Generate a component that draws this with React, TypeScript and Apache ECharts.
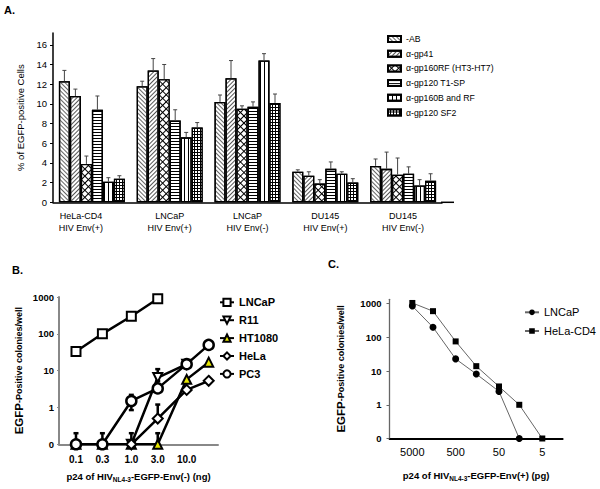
import React, { useEffect, useRef } from 'react';
import * as echarts from 'echarts';

// ---------- Panel A data ----------
const groupsA = ['HeLa-CD4\nHIV Env(+)', 'LNCaP\nHIV Env(+)', 'LNCaP\nHIV Env(-)', 'DU145\nHIV Env(+)', 'DU145\nHIV Env(-)'];
const antibodiesA = ['-AB', 'α-gp41', 'α-gp160RF (HT3-HT7)', 'α-gp120 T1-SP', 'α-gp160B and RF', 'α-gp120 SF2'];
const noAB = [12.3, 11.8, 10.2, 3.1, 3.7];
const gp41 = [10.8, 13.4, 12.6, 2.7, 3.4];
const gp160RF = [3.9, 12.5, 9.5, 1.9, 2.8];
const gp120T1SP = [9.4, 8.3, 9.7, 3.4, 2.9];
const gp160BRF = [2.1, 6.6, 14.4, 2.9, 1.7];
const gp120SF2 = [2.4, 7.6, 10.1, 2.0, 2.2];
const noABsd = [1.1, 0.5, 0.7, 0.2, 0.7];
const gp41sd = [0.7, 1.2, 1.8, 0.4, 1.7];
const gp160RFsd = [0.8, 1.5, 0.3, 0.4, 1.7];
const gp120T1SPsd = [1.4, 1.1, 0.5, 0.7, 0.7];
const gp160BRFsd = [0.4, 0.5, 0.7, 0.2, 0.6];
const gp120SF2sd = [0.3, 0.5, 0.9, 0.4, 0.7];
const yTicksA = [0, 2, 4, 6, 8, 10, 12, 14, 16];

// ---------- Panel B data ----------
const doseB = [0.1, 0.3, 1.0, 3.0, 10.0, 25];
const doseBTicks = [0.1, 0.3, 1.0, 3.0, 10.0];
const lncapB = [33, 100, 300, 900, null, null];
const r11B = [null, null, 0, 6.5, 15, null];
const ht1080B = [0, 0, 0, 0, 5.8, 17];
const helaB = [null, null, 0, 0.5, 3.0, 5.3];
const pc3B = [0, 0, 1.5, 3.3, 15, 50];
const pc3ErrB = [[0, 0.2], [0, 0.2], [0.85, 2.2], null, null, null];
const r11ErrB = [null, null, [0, 0.2], [5.2, 11], null, null];
const ht1080ErrB = [null, null, null, [0, 0.2], null, null];
const helaErrB = [null, null, null, [0.5, 1.2], null, null];
const yTicksLog = [0, 1, 10, 100, 1000];

// ---------- Panel C data ----------
const doseC = [5000, 1667, 500, 167, 50, 17, 5];
const doseCTicks = [5000, 500, 50, 5];
const lncapC = [850, 200, 23, 8.2, 2.5, 0, null];
const helaC = [1050, 600, 76, 14, 3.5, 1.0, 0];

const FONT = 'Liberation Sans, Arial, sans-serif';
const BAR_W = 11;
const lg = (v: number) => (v <= 0 ? -1 : Math.log10(v));

const valuesA = [noAB, gp41, gp160RF, gp120T1SP, gp160BRF, gp120SF2];
const sdA = [noABsd, gp41sd, gp160RFsd, gp120T1SPsd, gp160BRFsd, gp120SF2sd];

const decals: any[] = [
  { color: '#666', symbol: 'rect', symbolSize: 1, dashArrayX: [1, 0], dashArrayY: [1, 1.2], rotation: Math.PI / 4 },
  { color: '#555', symbol: 'rect', symbolSize: 1, dashArrayX: [1, 0], dashArrayY: [1, 1.8], rotation: -Math.PI / 4 },
  { color: '#fff', symbol: 'rect', symbolSize: 1, dashArrayX: [3.5, 1], dashArrayY: [3.5, 1], rotation: Math.PI / 4 },
  { color: '#000', symbol: 'rect', symbolSize: 1, dashArrayX: [1, 0], dashArrayY: [1, 2] },
  { color: '#000', symbol: 'rect', symbolSize: 1, dashArrayX: [1, 2.5], dashArrayY: [1, 0] },
  { color: '#fff', symbol: 'rect', symbolSize: 1, dashArrayX: [2, 1], dashArrayY: [2, 1] },
];
const barFill = ['#fff', '#fff', '#000', '#fff', '#fff', '#000'];

function pairs(xs: number[], ys: (number | null)[]) {
  const out: number[][] = [];
  xs.forEach((x, i) => {
    const y = ys[i];
    if (y !== null && y !== undefined) out.push([lg(x), lg(y)]);
  });
  return out;
}

function errPoints(xs: number[], ys: (number | null)[], errs: (number[] | null)[]) {
  const out: number[][] = [];
  xs.forEach((x, i) => {
    const e = errs[i];
    const y = ys[i];
    if (!e || y === null) return;
    const lo = Math.min(e[0], y);
    out.push([lg(x), lg(y), lg(lo), lg(e[1]), lo < y ? 1 : 0]);
  });
  return out;
}

export default function App() {
  const ref = useRef<HTMLDivElement>(null);
  useEffect(() => {
    if (!ref.current) return;
    const chart = echarts.init(ref.current, null, { renderer: 'svg' });

    const barSeries = antibodiesA.map((name, s) => ({
      name,
      type: 'bar',
      xAxisIndex: 0,
      yAxisIndex: 0,
      barWidth: BAR_W,
      barGap: '0%',
      data: valuesA[s],
      itemStyle: { color: barFill[s], borderColor: '#000', borderWidth: 1.3, decal: decals[s] },
      z: 2,
    }));

    const errA: number[][] = [];
    antibodiesA.forEach((_, s) => {
      valuesA[s].forEach((v, c) => errA.push([c, s, v, v + sdA[s][c]]));
    });

    const errSeriesA = {
      type: 'custom',
      xAxisIndex: 0,
      yAxisIndex: 0,
      z: 3,
      silent: true,
      data: errA,
      encode: { x: 0, y: [2, 3] },
      renderItem: (params: any, api: any) => {
        const c = api.value(0), s = api.value(1), v = api.value(2), t = api.value(3);
        const p0 = api.coord([c, v]);
        const p1 = api.coord([c, t]);
        const x = p0[0] + (s - 2.5) * BAR_W;
        return {
          type: 'group',
          children: [
            { type: 'line', shape: { x1: x, y1: p0[1], x2: x, y2: p1[1] }, style: { stroke: '#444', lineWidth: 1 } },
            { type: 'line', shape: { x1: x - 2, y1: p1[1], x2: x + 2, y2: p1[1] }, style: { stroke: '#444', lineWidth: 1 } },
          ],
        };
      },
    };

    const errRender = (w: number, cap: number) => (params: any, api: any) => {
      const x = api.value(0), lo = api.value(2), hi = api.value(3), hasLo = api.value(4);
      const pLo = api.coord([x, lo]);
      const pHi = api.coord([x, hi]);
      const children: any[] = [
        { type: 'line', shape: { x1: pLo[0], y1: pLo[1], x2: pHi[0], y2: pHi[1] }, style: { stroke: '#000', lineWidth: w } },
        { type: 'line', shape: { x1: pHi[0] - cap, y1: pHi[1], x2: pHi[0] + cap, y2: pHi[1] }, style: { stroke: '#000', lineWidth: w } },
      ];
      if (hasLo) {
        children.push({ type: 'line', shape: { x1: pLo[0] - cap, y1: pLo[1], x2: pLo[0] + cap, y2: pLo[1] }, style: { stroke: '#000', lineWidth: w } });
      }
      return { type: 'group', children };
    };

    const errB = [
      ...errPoints(doseB, pc3B, pc3ErrB),
      ...errPoints(doseB, r11B, r11ErrB),
      ...errPoints(doseB, ht1080B, ht1080ErrB),
      ...errPoints(doseB, helaB, helaErrB),
    ];

    const lineB = (name: string, ys: (number | null)[], symbol: string, size: number, fill: string, rotate = 0, bw = 2) => ({
      name,
      type: 'line',
      xAxisIndex: 1,
      yAxisIndex: 1,
      data: pairs(doseB, ys),
      symbol,
      symbolSize: size,
      symbolRotate: rotate,
      showAllSymbol: true,
      lineStyle: { color: '#000', width: 2.5 },
      itemStyle: { color: fill, borderColor: '#000', borderWidth: bw },
      z: 4,
    });

    const lineC = (name: string, ys: (number | null)[], symbol: string, size: number) => ({
      name,
      type: 'line',
      xAxisIndex: 2,
      yAxisIndex: 2,
      data: pairs(doseC, ys),
      symbol,
      symbolSize: size,
      showAllSymbol: true,
      lineStyle: { color: '#666', width: 1 },
      itemStyle: { color: '#000', borderColor: '#000', borderWidth: 0 },
      z: 4,
    });

    const logLabel = (v: number) => (v <= -1 ? '0' : String(Math.round(Math.pow(10, v))));

    const option: any = {
      animation: false,
      backgroundColor: '#fff',
      textStyle: { fontFamily: FONT, color: '#000' },
      graphic: [
        { type: 'text', left: 4, top: 4, style: { text: 'A.', font: `bold 11px ${FONT}`, fill: '#000' } },
        { type: 'text', left: 12, top: 264, style: { text: 'B.', font: `bold 11px ${FONT}`, fill: '#000' } },
        { type: 'text', left: 328, top: 258, style: { text: 'C.', font: `bold 11px ${FONT}`, fill: '#000' } },
        { type: 'line', shape: { x1: 441, y1: 202.3, x2: 454, y2: 202.3 }, style: { stroke: '#000', lineWidth: 1.5 } },
      ],
      grid: [
        { left: 53, right: 158, top: 33, bottom: 489 - 202.3 },
        { left: 59, right: 600 - 218, top: 297, bottom: 489 - 444.3 },
        { left: 389.5, right: 600 - 562.7, top: 299.3, bottom: 489 - 438.5 },
      ],
      legend: [
        {
          data: antibodiesA,
          left: 387,
          top: 33.5,
          padding: 0,
          orient: 'vertical',
          icon: 'rect',
          itemWidth: 13,
          itemHeight: 6,
          itemGap: 3.7,
          selectedMode: false,
          textStyle: { fontSize: 8.7, lineHeight: 11, fontFamily: FONT, color: '#000' },
        },
        {
          data: ['LNCaP', 'R11', 'HT1080', 'HeLa', 'PC3'],
          left: 219,
          top: 295.3,
          padding: 0,
          orient: 'vertical',
          itemWidth: 14,
          itemHeight: 9,
          itemGap: 3.9,
          selectedMode: false,
          textStyle: { fontSize: 11, fontWeight: 'bold', lineHeight: 14, fontFamily: FONT, color: '#000' },
        },
        {
          data: ['C:LNCaP', 'C:HeLa-CD4'],
          left: 524,
          top: 305.3,
          padding: 0,
          orient: 'vertical',
          itemWidth: 14,
          itemHeight: 7,
          itemGap: 4.7,
          selectedMode: false,
          formatter: (n: string) => n.slice(2),
          textStyle: { fontSize: 11, lineHeight: 14, fontFamily: FONT, color: '#000' },
        },
      ],
      xAxis: [
        {
          type: 'category',
          gridIndex: 0,
          data: groupsA.map((g, i) => (i === 0 ? { value: g, textStyle: { padding: [0, 22, 0, 0] } } : g)),
          axisLine: { lineStyle: { color: '#000', width: 1.5 } },
          axisTick: { show: false },
          axisLabel: { fontSize: 9, lineHeight: 12.3, margin: 7.5, color: '#000', fontFamily: FONT, interval: 0 },
        },
        {
          type: 'value',
          gridIndex: 1,
          min: -1.307,
          max: 1.566,
          axisLine: { onZero: false, lineStyle: { color: '#888', width: 2 } },
          axisTick: { show: false },
          splitLine: { show: false },
          axisLabel: {
            customValues: doseBTicks.map(lg),
            formatter: (v: number) => Math.pow(10, v).toFixed(1),
            fontSize: 10,
            fontWeight: 'bold',
            margin: 10,
            color: '#000',
            fontFamily: FONT,
          },
          name: '{m|p24 of HIV}{s|NL4-3}{m|-EGFP-Env(-) (ng)}',
          nameLocation: 'middle',
          nameGap: 26,
          nameTextStyle: {
            rich: {
              m: { fontSize: 9.5, fontWeight: 'bold', lineHeight: 13, fontFamily: FONT, color: '#000' },
              s: { fontSize: 6.5, fontWeight: 'bold', lineHeight: 6, verticalAlign: 'bottom', fontFamily: FONT, color: '#000' },
            },
          },
        },
        {
          type: 'value',
          gridIndex: 2,
          inverse: true,
          min: 0.228,
          max: 4.226,
          axisLine: { onZero: false, lineStyle: { color: '#000', width: 1.8 } },
          axisTick: { show: false },
          splitLine: { show: false },
          axisLabel: {
            customValues: doseCTicks.map(lg),
            formatter: (v: number) => String(Math.round(Math.pow(10, v))),
            fontSize: 11,
            margin: 8,
            color: '#000',
            fontFamily: FONT,
          },
          name: '{m|p24 of HIV}{s|NL4-3}{m|-EGFP-Env(+) (pg)}',
          nameLocation: 'middle',
          nameGap: 30,
          nameTextStyle: {
            rich: {
              m: { fontSize: 9.5, fontWeight: 'bold', lineHeight: 13, fontFamily: FONT, color: '#000' },
              s: { fontSize: 6.5, fontWeight: 'bold', lineHeight: 6, verticalAlign: 'bottom', fontFamily: FONT, color: '#000' },
            },
          },
        },
      ],
      yAxis: [
        {
          type: 'value',
          gridIndex: 0,
          min: 0,
          max: 17.2,
          axisLine: { show: true, lineStyle: { color: '#000', width: 1.5 } },
          axisTick: { show: true, length: 3, customValues: yTicksA, lineStyle: { color: '#000' } },
          splitLine: { show: false },
          axisLabel: { customValues: yTicksA, fontSize: 9.5, margin: 6, color: '#000', fontFamily: FONT },
          name: '% of EGFP-positive Cells',
          nameLocation: 'middle',
          nameGap: 19,
          nameTextStyle: { fontSize: 9.5, color: '#000', fontFamily: FONT },
        },
        {
          type: 'value',
          gridIndex: 1,
          min: -1,
          max: 3,
          axisLine: { show: true, onZero: false, lineStyle: { color: '#888', width: 2 } },
          axisTick: { show: true, length: 2, customValues: yTicksLog.map(lg), lineStyle: { color: '#888' } },
          splitLine: { show: false },
          axisLabel: {
            customValues: yTicksLog.map(lg),
            formatter: logLabel,
            fontSize: 9.5,
            fontWeight: 'bold',
            margin: 5,
            color: '#000',
            fontFamily: FONT,
          },
          name: '{a|EGFP}{b|-Positive colonies/well}',
          nameLocation: 'middle',
          nameGap: 34,
          nameTextStyle: {
            rich: {
              a: { fontSize: 11.5, fontWeight: 'bold', fontFamily: FONT, color: '#000' },
              b: { fontSize: 9, fontWeight: 'bold', fontFamily: FONT, color: '#000' },
            },
          },
        },
        {
          type: 'value',
          gridIndex: 2,
          min: -1,
          max: 3.13,
          axisLine: { show: true, onZero: false, lineStyle: { color: '#666', width: 1.3 } },
          axisTick: { show: true, length: 3, customValues: yTicksLog.map(lg), lineStyle: { color: '#666' } },
          splitLine: { show: false },
          axisLabel: {
            customValues: yTicksLog.map(lg),
            formatter: logLabel,
            fontSize: 9.5,
            fontWeight: 'bold',
            margin: 8,
            color: '#000',
            fontFamily: FONT,
          },
          name: '{a|EGFP}{b|-Positive colonies/well}',
          nameLocation: 'middle',
          nameGap: 43,
          nameTextStyle: {
            rich: {
              a: { fontSize: 11.5, fontWeight: 'bold', fontFamily: FONT, color: '#000' },
              b: { fontSize: 9, fontWeight: 'bold', fontFamily: FONT, color: '#000' },
            },
          },
        },
      ],
      series: [
        ...barSeries,
        errSeriesA,
        {
          type: 'custom',
          xAxisIndex: 1,
          yAxisIndex: 1,
          z: 3,
          silent: true,
          data: errB,
          encode: { x: 0, y: [1, 2, 3] },
          renderItem: errRender(2.5, 2.5),
        },
        lineB('LNCaP', lncapB, 'rect', 9, '#fff'),
        lineB('R11', r11B, 'triangle', 9, '#fff', 180),
        lineB('HT1080', ht1080B, 'triangle', 9, '#e6e600'),
        lineB('HeLa', helaB, 'diamond', 10, '#fff'),
        lineB('PC3', pc3B, 'circle', 10, '#fff', 0, 2.5),
        lineC('C:LNCaP', lncapC, 'circle', 7),
        lineC('C:HeLa-CD4', helaC, 'rect', 6),
      ],
    };

    chart.setOption(option);
    return () => chart.dispose();
  }, []);

  return <div ref={ref} style={{ position: 'fixed', left: 0, top: 0, width: 600, height: 489, background: '#fff' }} />;
}
